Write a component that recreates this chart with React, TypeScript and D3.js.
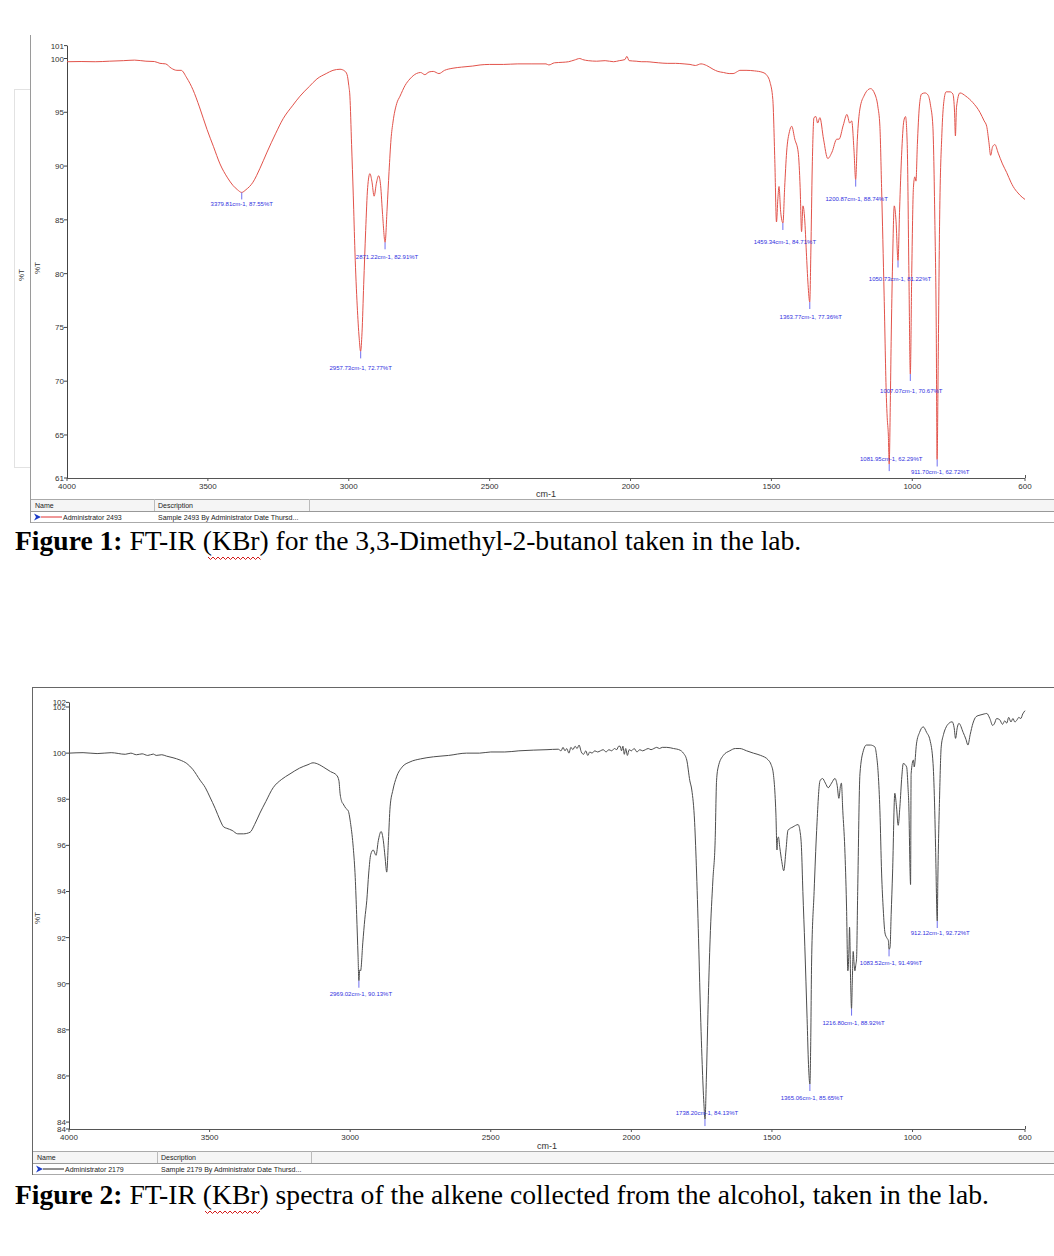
import React from "react";
import * as d3 from "d3";

// ---------- DATA ----------
const topWn = [4000,3950,3900,3850,3800,3760,3720,3690,3670,3650,3630,3610,3595,3575,3553,3530,3503,3480,3457,3430,3411,3395,3380,3365,3340,3315,3290,3260,3233,3200,3173,3140,3113,3080,3056,3031,3015,3006,3000,2996,2990,2984,2978,2970,2963,2958,2953,2947,2940,2933,2925,2918,2910,2902,2894,2887,2880,2871,2864,2857,2850,2843,2830,2818,2800,2783,2760,2745,2730,2715,2700,2680,2660,2630,2600,2560,2534,2500,2450,2400,2350,2300,2290,2270,2240,2220,2200,2180,2170,2150,2120,2090,2060,2040,2020,2013,2005,1980,1960,1942,1920,1900,1870,1840,1810,1789,1770,1750,1730,1707,1690,1670,1650,1636,1620,1612,1590,1560,1530,1515,1505,1495,1488,1482,1477,1473,1467,1459,1453,1446,1436,1428,1417,1405,1398,1393,1388,1382,1376,1370,1364,1360,1355,1349,1342,1336,1328,1315,1300,1285,1268,1260,1245,1232,1222,1215,1207,1201,1195,1186,1170,1157,1148,1133,1122,1115,1109,1100,1092,1089,1085,1082,1078,1075,1070,1064,1058,1050.7,1045,1038,1030,1024,1018,1012,1007,1002,996,991,987,982,975,967,955,944,935,927,920,915,912,908,903,895,888,880,866,856,850,847,843,831,810,785,760,745,736,728,722,715,707,695,680,665,650,642,625,610,600];
const topT = [99.7,99.72,99.7,99.75,99.8,99.85,99.75,99.72,99.55,99.5,99.1,98.9,98.9,98.2,97.1,95.5,93.4,91.8,90.2,88.9,88.2,87.8,87.55,87.8,88.5,89.8,91.3,93.0,94.4,95.6,96.5,97.4,98.1,98.6,98.9,99.0,98.85,98.5,97.5,96.5,92,87.3,82,77,74,72.77,74.5,79,84,88,89.3,88.6,87.2,88.4,89.1,88.2,85.5,82.91,86,89.5,92.5,94.1,95.8,96.5,97.5,98.1,98.6,98.7,98.5,98.75,98.8,98.6,98.9,99.1,99.2,99.3,99.4,99.45,99.45,99.5,99.5,99.5,99.4,99.6,99.65,99.7,99.85,100.0,99.9,99.8,99.75,99.8,99.7,99.8,99.9,100.2,99.8,99.75,99.7,99.7,99.65,99.6,99.55,99.55,99.5,99.45,99.35,99.5,99.35,99.0,98.8,98.7,98.6,98.6,98.8,98.9,98.9,98.85,98.7,98.4,97.8,96.2,90.6,84.8,87,88.1,85.7,84.71,88,91.3,93.2,93.7,92.5,91.3,88,83.9,86.3,85.1,82,79,77.36,82,90,94.5,94.6,94.0,94.5,92.5,90.7,91.3,92.5,92.5,93.8,94.8,94.0,94.2,91.5,88.74,92.5,95.3,96.6,97.1,97.2,96.7,95.5,93.7,88,78,68.5,66.6,65,62.29,68,73.7,81,86.3,85,81.22,86,91,94.2,94.6,92,80,70.67,80,88,89,88.6,92,95.5,96.7,96.8,96.6,95.6,93.7,85,75,62.72,72,85,93,96,96.9,96.9,96.7,95,92.8,95.5,96.8,96.5,95.9,95,94.2,93.7,92.2,91.0,91.8,92.0,91.2,90.2,89.4,88.5,88.1,87.5,87.1,86.9];

const botWn = [4000,3950,3900,3850,3800,3780,3760,3740,3720,3700,3690,3670,3653,3630,3605,3581,3560,3534,3515,3499,3480,3463,3450,3439,3420,3400,3380,3356,3340,3321,3300,3274,3245,3214,3180,3150,3132,3110,3096,3070,3048,3040,3036,3030,3025,3015,3007,2998,2989,2982,2977,2972,2969,2966,2963,2955,2948,2941,2934,2927,2918,2908,2900,2890,2882,2876,2870,2864,2858,2848,2835,2815,2787,2750,2704,2650,2586,2540,2500,2450,2400,2349,2300,2260,2250,2243,2236,2230,2222,2215,2208,2200,2193,2186,2178,2170,2162,2155,2148,2140,2130,2120,2110,2100,2090,2080,2070,2060,2052,2045,2040,2035,2030,2025,2020,2014,2008,2000,1990,1980,1970,1960,1950,1940,1930,1920,1910,1900,1890,1874,1850,1827,1815,1803,1792,1785,1775,1768,1760,1756,1748,1742,1738,1733,1726,1720,1710,1702,1697,1691,1673,1650,1630,1614,1590,1566,1540,1513,1503,1495,1489,1486,1482,1480,1477,1472,1465,1458,1450,1443,1425,1407,1400,1395,1390,1383,1375,1370,1365,1362,1359,1350,1341,1329,1320,1310,1300,1288,1276,1268,1262,1256,1253,1248,1241,1235,1230,1226,1224,1220,1217,1214,1211,1208,1205,1202,1199,1195,1187,1175,1164,1150,1134,1128,1122,1116,1110,1104,1098,1092,1086,1083.5,1080,1076,1071,1063,1057,1051,1045,1038,1033,1021,1016,1013,1009,1007,1005,997,994,986,975,962,950,938,927,921,918,912,910,904,898,890,880,870,859,852,847,841,835,820,810,803,795,785,774,760,745,736,725,715,708,701,690,680,672,665,658,650,643,636,629,622,615,608,600];
const botT = [100.0,100.02,99.98,100.02,99.95,100.0,99.93,99.97,99.9,99.96,99.9,99.93,99.87,99.8,99.7,99.55,99.3,98.83,98.5,98.1,97.6,97.1,96.8,96.74,96.65,96.5,96.5,96.57,96.9,97.4,97.9,98.5,98.85,99.1,99.35,99.5,99.58,99.5,99.4,99.2,99.04,98.8,98.26,97.9,97.8,97.6,97.5,96.9,95.9,94.6,93.0,91.2,90.13,90.6,90.56,91.8,92.8,93.6,94.8,95.6,95.8,95.57,96.2,96.6,96.2,95.5,94.84,96.2,97.67,98.4,98.97,99.4,99.62,99.75,99.84,99.9,100.0,100.0,100.05,100.05,100.1,100.13,100.15,100.17,100.1,100.25,100.1,100.2,100.0,100.25,100.15,100.3,100.2,100.35,100.05,99.95,100.1,99.9,100.05,100.0,100.1,100.05,100.1,100.15,100.05,100.15,100.1,100.2,100.15,100.3,100.3,100.1,100.3,99.95,100.2,99.9,100.15,100.1,100.2,100.05,100.15,100.1,100.15,100.2,100.15,100.2,100.25,100.2,100.25,100.25,100.2,100.13,100.0,99.7,98.8,98.4,97.0,94.8,91.5,89.6,86.5,84.8,84.13,86,89.5,91.9,94.5,96.2,98.8,99.4,99.9,100.1,100.2,100.2,100.1,100.0,99.9,99.7,99.5,99.1,98.2,97.4,95.8,96.3,96.36,95.9,95.3,94.9,95.8,96.65,96.8,96.9,96.6,95.9,94,91.6,88.5,86.5,85.65,87.5,90.9,94,96.65,98.8,98.9,98.7,98.5,98.7,98.9,98.6,98.04,98.6,98.7,97.5,95.9,93.5,90.56,91.5,92.45,90.0,88.92,90.2,91.4,90.9,90.56,90.8,91.1,94,99.1,100.1,100.35,100.35,100.27,99.9,99.1,97.5,94.8,93.2,92.2,92.0,91.87,91.49,91.58,93,94.8,98.26,97.67,96.87,97.67,99.0,99.55,99.4,98.5,97.67,95,94.3,99.1,99.7,99.4,100.4,100.9,101.14,100.9,100.57,99.55,97.5,95.9,92.72,94.5,98,100.27,100.8,101.14,101.3,101.36,101.1,100.64,101.1,101.29,100.9,100.6,100.35,100.8,101.3,101.58,101.65,101.7,101.72,101.5,101.2,101.3,101.5,101.45,101.25,101.4,101.3,101.55,101.35,101.5,101.35,101.43,101.55,101.5,101.7,101.84];

const topPeakWn = [3379.81, 2871.22, 2957.73, 1459.34, 1200.87, 1050.73, 1363.77, 1007.07, 1081.95, 911.70];
const topPeakT = [87.55, 82.91, 72.77, 84.71, 88.74, 81.22, 77.36, 70.67, 62.29, 62.72];
const botPeakWn = [2969.02, 1738.20, 1365.06, 1216.80, 1083.52, 912.12];
const botPeakT = [90.13, 84.13, 85.65, 88.92, 91.49, 92.72];

const topYTicks = [61, 65, 70, 75, 80, 85, 90, 95, 100, 101.2];
const botYTicks = [83.7, 84, 86, 88, 90, 92, 94, 96, 98, 100, 102, 102.2];
const xTicks = [4000, 3500, 3000, 2500, 2000, 1500, 1000, 600];

const topLegendName = "Administrator 2493";
const topLegendDesc = "Sample 2493 By Administrator Date Thursd...";
const botLegendName = "Administrator 2179";
const botLegendDesc = "Sample 2179 By Administrator Date Thursd...";

// ---------- LAYOUT (label offsets relative to peak, px) ----------
const topLabelDx = [0, 2, 0, 2, 1, 2, 1, 1, 2, 3];
const topLabelDy = [14, 17, 19, 21, 21, 20, 17, 19, -3, 15];
const botLabelDx = [2, 2, 2, 2, 2, 3];
const botLabelDy = [15, -4, 16, 16, 16, 14];

const SANS = "Arial, 'Liberation Sans', sans-serif";
const SERIF = "'Times New Roman', 'Liberation Serif', serif";

function fmtLabel(wn: number, t: number) {
  return `${wn.toFixed(2)}cm-1, ${t.toFixed(2)}%T`;
}

type PanelProps = {
  wn: number[]; t: number[]; color: string;
  xRange: [number, number]; yDomain: [number, number]; yRange: [number, number];
  yTicks: number[]; peakWn: number[]; peakT: number[];
  labelDx: number[]; labelDy: number[]; cmY: number; xLabelY: number;
};

function Panel(p: PanelProps) {
  const x = d3.scaleLinear().domain([4000, 600]).range(p.xRange);
  const y = d3.scaleLinear().domain(p.yDomain).range(p.yRange);
  const pts = p.wn.map((w, i) => [w, p.t[i]] as [number, number]);
  const line = d3.line<[number, number]>().x(d => x(d[0])).y(d => y(d[1])).curve(d3.curveMonotoneX);
  const x0 = p.xRange[0];
  const yb = p.yRange[0];
  return (
    <g>
      <line x1={x0 + 0.5} x2={x0 + 0.5} y1={p.yRange[1]} y2={yb} stroke="#444" strokeWidth={1} />
      <line x1={x0} x2={p.xRange[1]} y1={yb + 0.5} y2={yb + 0.5} stroke="#555" strokeWidth={1} />
      {p.yTicks.map((v, i) => (
        <g key={"yt" + i}>
          <line x1={x0 - 3} x2={x0} y1={y(v)} y2={y(v)} stroke="#444" />
          <text x={x0 - 3} y={y(v) + 3} fontSize={8} fontFamily={SANS} fill="#333" textAnchor="end">{Math.round(v)}</text>
        </g>
      ))}
      {xTicks.map((v, i) => (
        <g key={"xt" + i}>
          <line x1={x(v)} x2={x(v)} y1={yb} y2={yb + 3} stroke="#555" />
          <text x={x(v)} y={p.xLabelY} fontSize={8} fontFamily={SANS} fill="#333" textAnchor="middle">{v}</text>
        </g>
      ))}
      <line x1={p.xRange[1] + 0.5} x2={p.xRange[1] + 0.5} y1={yb - 3} y2={yb} stroke="#555" />
      <text x={(p.xRange[0] + p.xRange[1]) / 2} y={p.cmY} fontSize={9} fontFamily={SANS} fill="#333" textAnchor="middle">cm-1</text>
      <path d={line(pts) || ""} fill="none" stroke={p.color} strokeWidth={1} />
      {p.peakWn.map((w, i) => {
        const px = x(w), py = y(p.peakT[i]);
        return (
          <g key={"pk" + i}>
            <line x1={px} x2={px} y1={py} y2={py + 7} stroke="#7070f0" strokeWidth={1} />
            <text x={px + p.labelDx[i]} y={py + p.labelDy[i]} fontSize={6} fontFamily={SANS} fill="#3030e0" textAnchor="middle">{fmtLabel(w, p.peakT[i])}</text>
          </g>
        );
      })}
    </g>
  );
}

function Legend({ x0, yTop, sep1, sep2, name, desc, lineColor }: any) {
  const h1 = yTop, h2 = yTop + 12, h3 = yTop + 23;
  return (
    <g fontFamily={SANS} fontSize={7} fill="#222">
      <rect x={x0} y={h1} width={1054 - x0} height={12} fill="#f5f5f5" />
      <line x1={x0} x2={1054} y1={h1 + 0.5} y2={h1 + 0.5} stroke="#aaa" />
      <line x1={x0} x2={1054} y1={h2 + 0.5} y2={h2 + 0.5} stroke="#999" />
      <line x1={x0} x2={1054} y1={h3 + 0.5} y2={h3 + 0.5} stroke="#aaa" />
      <line x1={sep1 + 0.5} x2={sep1 + 0.5} y1={h1} y2={h2} stroke="#bbb" />
      <line x1={sep2 + 0.5} x2={sep2 + 0.5} y1={h1} y2={h2} stroke="#bbb" />
      <text x={x0 + 4} y={h1 + 9}>Name</text>
      <text x={sep1 + 4} y={h1 + 9}>Description</text>
      <path d={`M${x0 + 3},${h2 + 2.5} L${x0 + 10},${h2 + 6} L${x0 + 3},${h2 + 9.5} L${x0 + 5},${h2 + 6} Z`} fill="#1c3cc8" />
      <line x1={x0 + 10} x2={x0 + 31} y1={h2 + 6} y2={h2 + 6} stroke={lineColor} strokeWidth={1} />
      <text x={x0 + 32} y={h2 + 8.5}>{name}</text>
      <text x={sep1 + 4} y={h2 + 8.5}>{desc}</text>
    </g>
  );
}

function Wavy({ x1, x2, y }: { x1: number; x2: number; y: number }) {
  const n = Math.floor((x2 - x1) / 2.5);
  let d = `M${x1},${y}`;
  for (let i = 1; i <= n; i++) d += ` L${x1 + i * 2.5},${i % 2 ? y + 2.5 : y}`;
  return <path d={d} fill="none" stroke="#d21a1a" strokeWidth={1} />;
}

export default function App() {
  return (
    <svg width={1054} height={1256} style={{ position: "absolute", left: 0, top: 0, background: "#fff" }}>
      <rect width={1054} height={1256} fill="#fff" />
      {/* ===== Figure 1 ===== */}
      <rect x={14.5} y={89.5} width={16} height={378} fill="none" stroke="#e2e2e2" />
      <line x1={30.5} x2={30.5} y1={35} y2={523} stroke="#9a9a9a" />
      <text transform="translate(24,275) rotate(-90)" fontSize={8} fontFamily={SANS} fill="#333" textAnchor="middle">%T</text>
      <text transform="translate(40,268) rotate(-90)" fontSize={8} fontFamily={SANS} fill="#333" textAnchor="middle">%T</text>
      <Panel wn={topWn} t={topT} color="#e2524a" xRange={[67, 1025]} yDomain={[61, 101.2]} yRange={[478, 45.6]}
        yTicks={topYTicks} peakWn={topPeakWn} peakT={topPeakT}
        labelDx={topLabelDx} labelDy={topLabelDy} cmY={497} xLabelY={489} />
      <Legend x0={31} yTop={499} sep1={154} sep2={309} name={topLegendName} desc={topLegendDesc} lineColor="#e03030" />
      <text x={15} y={550} fontFamily={SERIF} fontSize={27.6} fill="#000">
        <tspan fontWeight="bold">Figure 1:</tspan> FT-IR (KBr) for the 3,3-Dimethyl-2-butanol taken in the lab.
      </text>
      <Wavy x1={208} x2={262} y={557} />

      {/* ===== Figure 2 ===== */}
      <line x1={32} x2={1054} y1={687.5} y2={687.5} stroke="#666" />
      <line x1={32.5} x2={32.5} y1={687} y2={1175} stroke="#666" />
      <text transform="translate(40,918) rotate(-90)" fontSize={8} fontFamily={SANS} fill="#333" textAnchor="middle">%T</text>
      <Panel wn={botWn} t={botT} color="#4d4d4d" xRange={[69, 1025]} yDomain={[83.7, 102.2]} yRange={[1129, 702.4]}
        yTicks={botYTicks} peakWn={botPeakWn} peakT={botPeakT}
        labelDx={botLabelDx} labelDy={botLabelDy} cmY={1149} xLabelY={1140} />
      <Legend x0={33} yTop={1151} sep1={157} sep2={311} name={botLegendName} desc={botLegendDesc} lineColor="#222" />
      <text x={15} y={1204} fontFamily={SERIF} fontSize={27.6} fill="#000">
        <tspan fontWeight="bold">Figure 2:</tspan> FT-IR (KBr) spectra of the alkene collected from the alcohol, taken in the lab.
      </text>
      <Wavy x1={205} x2={262} y={1211} />
    </svg>
  );
}
